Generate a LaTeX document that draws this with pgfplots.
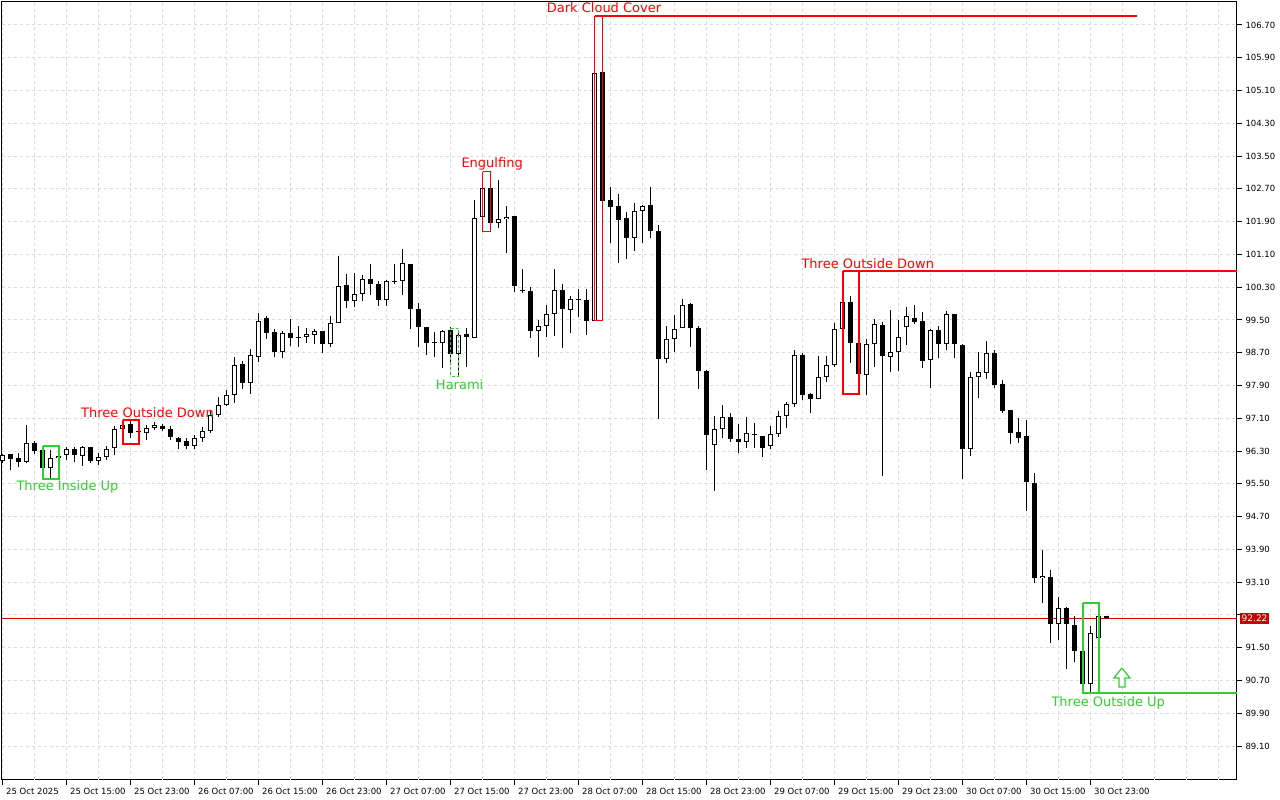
\documentclass[border=0pt]{standalone}
\usepackage{fontspec}
\setmainfont{DejaVu Sans}
\usepackage{pgfplots}
\usepackage{pgfplotstable}
\pgfplotsset{compat=1.18}
\definecolor{mtred}{RGB}{255,0,0}
\definecolor{mtgreen}{RGB}{50,205,50}
\definecolor{pricered}{RGB}{215,0,0}
\definecolor{boxred}{RGB}{200,0,0}

\pgfplotstableread{
k O H L C
0 96.06 96.24 96.00 96.20
1 96.22 96.23 95.85 96.11
2 96.12 96.25 95.90 96.04
3 96.04 96.94 96.00 96.49
4 96.50 96.55 96.24 96.31
5 96.33 96.42 95.77 95.88
6 95.88 96.33 95.63 96.12
7 96.12 96.41 96.00 96.19
8 96.20 96.41 96.08 96.34
9 96.34 96.41 96.04 96.20
10 96.19 96.43 95.94 96.39
11 96.39 96.41 96.00 96.06
12 96.07 96.26 95.96 96.15
13 96.15 96.42 96.08 96.36
14 96.37 96.90 96.20 96.83
15 96.84 97.02 96.81 96.94
16 96.95 97.05 96.61 96.73
17 96.78 96.95 96.47 96.76
18 96.73 96.94 96.57 96.86
19 96.86 97.00 96.81 96.94
20 96.91 96.95 96.80 96.83
21 96.83 96.90 96.57 96.65
22 96.61 96.65 96.34 96.53
23 96.55 96.61 96.34 96.42
24 96.42 96.69 96.34 96.63
25 96.63 96.88 96.53 96.80
26 96.80 97.28 96.74 97.18
27 97.18 97.63 97.14 97.42
28 97.42 97.79 97.40 97.67
29 97.67 98.59 97.48 98.40
30 98.42 98.51 97.81 97.97
31 97.97 98.80 97.69 98.64
32 98.60 99.68 98.48 99.47
33 99.54 99.60 99.04 99.19
34 99.20 99.27 98.59 98.73
35 98.73 99.22 98.56 99.17
36 99.17 99.52 98.86 99.07
37 99.08 99.35 98.85 99.07
38 99.08 99.30 98.95 99.15
39 99.14 99.29 98.91 99.22
40 99.23 99.23 98.69 98.91
41 98.92 99.60 98.83 99.42
42 99.42 101.05 99.42 100.32
43 100.35 100.61 99.78 99.97
44 99.97 100.65 99.82 100.13
45 100.13 100.60 99.96 100.49
46 100.49 100.87 100.11 100.37
47 100.38 100.46 99.85 99.99
48 99.99 100.48 99.85 100.44
49 100.42 100.87 100.37 100.43
50 100.44 101.22 100.10 100.88
51 100.87 100.87 99.27 99.76
52 99.76 99.91 98.85 99.32
53 99.32 99.33 98.64 98.95
54 98.96 99.20 98.60 98.95
55 98.95 99.26 98.32 99.24
56 99.26 99.33 98.45 98.66
57 98.66 99.17 98.13 99.13
58 99.15 99.30 98.36 99.08
59 99.07 102.43 99.06 102.00
60 102.02 103.12 101.66 102.71
61 102.71 103.00 101.70 101.87
62 101.86 102.92 101.74 101.96
63 101.96 102.28 101.14 102.02
64 102.04 102.04 100.19 100.34
65 100.21 100.74 100.17 100.20
66 100.21 100.31 99.05 99.23
67 99.24 99.50 98.60 99.35
68 99.35 99.86 99.09 99.65
69 99.65 100.74 99.12 100.23
70 100.23 100.38 98.82 99.76
71 99.74 100.08 99.17 100.00
72 100.00 100.25 99.58 99.99
73 99.99 100.25 99.13 99.47
74 99.48 105.93 99.48 105.52
75 105.56 106.92 102.27 102.41
76 102.44 102.75 101.37 102.25
77 102.28 102.57 100.90 101.95
78 101.98 102.14 100.98 101.51
79 101.51 102.35 101.19 102.17
80 102.17 102.31 101.39 102.28
81 102.31 102.75 101.51 101.66
82 101.67 101.82 97.08 98.55
83 98.54 99.35 98.44 99.03
84 99.03 99.62 98.73 99.27
85 99.30 100.00 99.30 99.86
86 99.89 99.91 98.85 99.30
87 99.30 99.36 97.82 98.26
88 98.26 98.28 95.84 96.70
89 96.44 97.16 95.33 96.83
90 96.83 97.43 96.63 97.12
91 97.12 97.22 96.51 96.59
92 96.59 96.96 96.26 96.53
93 96.52 97.12 96.38 96.73
94 96.71 96.99 96.38 96.70
95 96.68 96.68 96.16 96.38
96 96.42 96.90 96.34 96.71
97 96.72 97.29 96.64 97.16
98 97.16 97.50 96.87 97.44
99 97.44 98.77 97.38 98.64
100 98.65 98.69 97.55 97.67
101 97.69 97.71 97.22 97.56
102 97.56 98.62 97.56 98.10
103 98.10 98.62 97.99 98.39
104 98.39 99.43 98.36 99.27
105 99.27 100.70 99.27 99.93
106 99.93 100.09 98.46 98.93
107 98.95 99.10 97.69 98.17
108 98.16 99.03 97.67 98.91
109 98.91 99.52 98.36 99.40
110 99.38 99.46 95.69 98.61
111 98.60 99.74 98.24 98.71
112 98.73 99.50 98.26 99.08
113 99.32 99.82 98.89 99.60
114 99.54 99.87 99.40 99.44
115 99.47 99.70 98.32 98.51
116 98.52 99.27 97.83 99.26
117 99.26 99.35 98.56 98.91
118 98.91 99.72 98.77 99.64
119 99.65 99.65 98.56 98.91
120 98.89 98.91 95.61 96.34
121 96.34 98.24 96.19 98.10
122 98.10 98.73 97.59 98.22
123 98.21 98.99 98.07 98.69
124 98.69 98.77 97.83 97.91
125 97.93 98.03 97.22 97.29
126 97.30 97.31 96.48 96.75
127 96.76 97.10 96.50 96.63
128 96.67 97.06 94.84 95.55
129 95.53 95.76 93.07 93.19
130 93.19 93.88 92.58 93.25
131 93.22 93.40 91.61 92.09
132 92.08 92.75 91.69 92.46
133 92.46 92.50 90.99 92.08
134 92.05 92.27 91.14 91.43
135 91.42 91.65 90.39 90.61
136 90.61 92.03 90.39 91.87
137 91.73 92.60 91.65 92.27
138 92.27 92.28 92.21 92.22
}\candles

\begin{document}
\begin{tikzpicture}[x=1pt,y=1pt]
\fill[white] (0,0) rectangle (1280,800);
\begin{axis}[
  at={(2pt,20pt)}, anchor=south west,
  scale only axis, width=1235pt, height=778pt,
  xmin=-0.0875, xmax=154.29, ymin=88.272, ymax=107.261,
  clip=false,
  axis line style={line width=1pt, black},
  tick align=outside, major tick length=5pt,
  xtick pos=bottom, ytick pos=right, yticklabel pos=right,
  tick style={black, line width=1pt},
  xtick={0,8,...,136},
  xticklabels={25 Oct 2025,25 Oct 15:00,25 Oct 23:00,26 Oct 07:00,26 Oct 15:00,26 Oct 23:00,27 Oct 07:00,27 Oct 15:00,27 Oct 23:00,28 Oct 07:00,28 Oct 15:00,28 Oct 23:00,29 Oct 07:00,29 Oct 15:00,29 Oct 23:00,30 Oct 07:00,30 Oct 15:00,30 Oct 23:00},
  ytick={89.1,89.9,90.7,91.5,92.3,93.1,93.9,94.7,95.5,96.3,97.1,97.9,98.7,99.5,100.3,101.1,101.9,102.7,103.5,104.3,105.1,105.9,106.7},
  yticklabels={89.10,89.90,90.70,91.50,{},93.10,93.90,94.70,95.50,96.30,97.10,97.90,98.70,99.50,100.30,101.10,101.90,102.70,103.50,104.30,105.10,105.90,106.70},
  extra x ticks={4,12,20,28,36,44,52,60,68,76,84,92,100,108,116,124,132,140,144,148,152},
  extra x tick labels={},
  extra x tick style={tick style={draw=none}},
  grid=major,
  major grid style={gray!28, dash pattern=on 3pt off 3pt, line width=1pt},
  tick label style={font=\fontsize{8.5}{10}\selectfont},
  x tick label style={anchor=north west, xshift=0pt},
  y tick label style={anchor=west},
]
% current price line
\addplot[pricered, line width=1pt] coordinates {(-0.0875,92.22) (154.29,92.22)};
% wicks
\addplot[black, line width=1pt, quiver={u=0, v=\thisrow{H}-\thisrow{L}}] table[x=k, y=L] {\candles};
% bodies (black outline / filled)
\addplot[black, line width=5pt, quiver={u=0, v={max(abs(\thisrow{C}-\thisrow{O}),0.0244)}}] table[x=k, y expr={min(\thisrow{O},\thisrow{C})}] {\candles};
% hollow interiors of rising candles
\addplot[white, line width=3pt, quiver={u=0, v={max(\thisrow{C}-\thisrow{O}-0.0488,0)}}] table[x=k, y expr={\thisrow{O}+0.0244}] {\candles};

% pattern boxes
\addplot[mtgreen, line width=2pt] coordinates {(5,96.43) (7,96.43) (7,95.63) (5,95.63) (5,96.43)};
\addplot[mtred, line width=2pt] coordinates {(15,97.05) (17,97.05) (17,96.47) (15,96.47) (15,97.05)};
\addplot[mtgreen, line width=1pt, dash pattern=on 3pt off 2pt] coordinates {(56,99.30) (57,99.30) (57,98.13) (56,98.13) (56,99.30)};
\addplot[mtred, line width=1pt] coordinates {(60,103.12) (61,103.12) (61,101.66) (60,101.66) (60,103.12)};
\addplot[mtred, line width=1pt] coordinates {(74,106.92) (75,106.92) (75,99.48) (74,99.48) (74,106.92)};
\addplot[mtred, line width=2pt] coordinates {(74,106.92) (141.8,106.92)};
\addplot[mtred, line width=2pt] coordinates {(105,100.70) (107,100.70) (107,97.69) (105,97.69) (105,100.70)};
\addplot[mtred, line width=2pt] coordinates {(107,100.70) (154.29,100.70)};
\addplot[mtgreen, line width=2pt] coordinates {(135,92.60) (137,92.60) (137,90.39) (135,90.39) (135,92.60)};
\addplot[mtgreen, line width=2pt] coordinates {(137,90.39) (154.29,90.39)};
% up arrow
\addplot[mtgreen, line width=1.2pt, fill=white] coordinates {(139.91,91.006) (140.91,90.761) (140.285,90.761) (140.285,90.541) (139.535,90.541) (139.535,90.761) (138.91,90.761) (139.91,91.006)};

% pattern labels
\node[anchor=base, text=mtgreen, font=\fontsize{13}{15}\selectfont] at (axis cs:8.1,95.326) {Three Inside Up};
\node[anchor=base, text=mtred, font=\fontsize{13}{15}\selectfont] at (axis cs:18.1,97.125) {Three Outside Down};
\node[anchor=base, text=mtgreen, font=\fontsize{13}{15}\selectfont] at (axis cs:57.12,97.808) {Harami};
\node[anchor=base, text=mtred, font=\fontsize{13}{15}\selectfont] at (axis cs:61.18,103.217) {Engulfing};
\node[anchor=base, text=mtred, font=\fontsize{13}{15}\selectfont] at (axis cs:75.17,107.00) {Dark Cloud Cover};
\node[anchor=base, text=mtred, font=\fontsize{13}{15}\selectfont] at (axis cs:108.14,100.76) {Three Outside Down};
\node[anchor=base, text=mtgreen, font=\fontsize{13}{15}\selectfont] at (axis cs:138.2,90.06) {Three Outside Up};

% price label
\node[anchor=west, xshift=3pt, fill=boxred, text=white, inner xsep=1.5pt, inner ysep=0pt, minimum height=11pt, font=\fontsize{9}{10}\selectfont] at (axis cs:154.29,92.22) {92.22};
\end{axis}
\pgfresetboundingbox
\path[use as bounding box] (0,0) rectangle (1280,800);
\end{tikzpicture}
\end{document}
